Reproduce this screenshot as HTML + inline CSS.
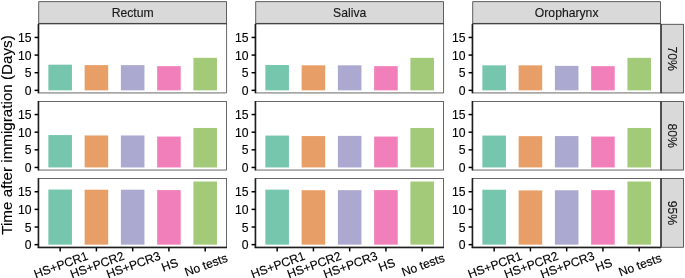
<!DOCTYPE html>
<html lang="en"><head><meta charset="utf-8"><title>Time after immigration (Days)</title>
<style>html,body{margin:0;padding:0;background:#fff}svg{display:block}text{font-family:"Liberation Sans",Arial,Helvetica,sans-serif;stroke:#000;stroke-width:0.12px}</style></head><body>
<svg width="685" height="278" viewBox="0 0 685 278">
<rect width="685" height="278" fill="#fff"/>
<rect x="38.4" y="1.35" width="188.55" height="22.55" fill="#D9D9D9"/><rect x="38.77" y="1.72" width="187.81" height="21.81" fill="none" stroke="#333333" stroke-width="0.74"/>
<text x="132.68" y="17.19" font-size="12.2" fill="#1A1A1A" text-anchor="middle">Rectum</text>
<rect x="48.37" y="64.67" width="23.57" height="25.68" fill="#76C5AD"/>
<rect x="84.63" y="65.13" width="23.57" height="25.22" fill="#E89F67"/>
<rect x="120.89" y="65.13" width="23.57" height="25.22" fill="#ACA9D1"/>
<rect x="157.15" y="66.15" width="23.57" height="24.2" fill="#F17FB9"/>
<rect x="193.41" y="57.83" width="23.57" height="32.52" fill="#A3CA78"/>
<line x1="38.4" y1="23.9" x2="38.4" y2="93.3" stroke="#000" stroke-width="1.48"/>
<path d="M38.77 23.9V92.93H226.58V23.9" fill="none" stroke="#333333" stroke-width="0.74"/>
<rect x="38.4" y="22.95" width="188.55" height="1.05" fill="#444"/>
<rect x="38.4" y="24" width="188.55" height="1" fill="#333" fill-opacity="0.3"/>
<line x1="34.58" y1="90.35" x2="38.4" y2="90.35" stroke="#000" stroke-width="1.48"/>
<text x="31.52" y="94.97" font-size="12.2" fill="#000" text-anchor="end">0</text>
<line x1="34.58" y1="72.72" x2="38.4" y2="72.72" stroke="#000" stroke-width="1.48"/>
<text x="31.52" y="77.33" font-size="12.2" fill="#000" text-anchor="end">5</text>
<line x1="34.58" y1="55.08" x2="38.4" y2="55.08" stroke="#000" stroke-width="1.48"/>
<text x="31.52" y="59.7" font-size="12.2" fill="#000" text-anchor="end">10</text>
<line x1="34.58" y1="37.45" x2="38.4" y2="37.45" stroke="#000" stroke-width="1.48"/>
<text x="31.52" y="42.06" font-size="12.2" fill="#000" text-anchor="end">15</text>
<rect x="48.37" y="135.07" width="23.57" height="32.38" fill="#76C5AD"/>
<rect x="84.63" y="135.46" width="23.57" height="31.99" fill="#E89F67"/>
<rect x="120.89" y="135.46" width="23.57" height="31.99" fill="#ACA9D1"/>
<rect x="157.15" y="136.55" width="23.57" height="30.9" fill="#F17FB9"/>
<rect x="193.41" y="127.98" width="23.57" height="39.47" fill="#A3CA78"/>
<line x1="38.4" y1="101" x2="38.4" y2="170.4" stroke="#000" stroke-width="1.48"/>
<rect x="38.77" y="101.37" width="187.81" height="68.66" fill="none" stroke="#333333" stroke-width="0.74"/>
<line x1="34.58" y1="167.45" x2="38.4" y2="167.45" stroke="#000" stroke-width="1.48"/>
<text x="31.52" y="172.07" font-size="12.2" fill="#000" text-anchor="end">0</text>
<line x1="34.58" y1="149.82" x2="38.4" y2="149.82" stroke="#000" stroke-width="1.48"/>
<text x="31.52" y="154.43" font-size="12.2" fill="#000" text-anchor="end">5</text>
<line x1="34.58" y1="132.18" x2="38.4" y2="132.18" stroke="#000" stroke-width="1.48"/>
<text x="31.52" y="136.8" font-size="12.2" fill="#000" text-anchor="end">10</text>
<line x1="34.58" y1="114.55" x2="38.4" y2="114.55" stroke="#000" stroke-width="1.48"/>
<text x="31.52" y="119.16" font-size="12.2" fill="#000" text-anchor="end">15</text>
<rect x="48.37" y="189.56" width="23.57" height="55.09" fill="#76C5AD"/>
<rect x="84.63" y="189.7" width="23.57" height="54.95" fill="#E89F67"/>
<rect x="120.89" y="189.7" width="23.57" height="54.95" fill="#ACA9D1"/>
<rect x="157.15" y="190.09" width="23.57" height="54.56" fill="#F17FB9"/>
<rect x="193.41" y="181.52" width="23.57" height="63.13" fill="#A3CA78"/>
<line x1="38.4" y1="178.2" x2="38.4" y2="247.6" stroke="#000" stroke-width="1.48"/>
<line x1="37.66" y1="247.6" x2="226.95" y2="247.6" stroke="#000" stroke-width="1.48"/>
<rect x="38.77" y="178.57" width="187.81" height="68.66" fill="none" stroke="#333333" stroke-width="0.74"/>
<line x1="60.16" y1="247.6" x2="60.16" y2="251.42" stroke="#000" stroke-width="1.48"/>
<text transform="translate(60.86,264.7) rotate(-20)" x="0" y="4.37" font-size="12.2" fill="#000" text-anchor="middle">HS+PCR1</text>
<line x1="96.42" y1="247.6" x2="96.42" y2="251.42" stroke="#000" stroke-width="1.48"/>
<text transform="translate(97.12,264.7) rotate(-20)" x="0" y="4.37" font-size="12.2" fill="#000" text-anchor="middle">HS+PCR2</text>
<line x1="132.68" y1="247.6" x2="132.68" y2="251.42" stroke="#000" stroke-width="1.48"/>
<text transform="translate(133.38,264.7) rotate(-20)" x="0" y="4.37" font-size="12.2" fill="#000" text-anchor="middle">HS+PCR3</text>
<line x1="168.93" y1="247.6" x2="168.93" y2="251.42" stroke="#000" stroke-width="1.48"/>
<text transform="translate(169.63,264.7) rotate(-20)" x="0" y="4.37" font-size="12.2" fill="#000" text-anchor="middle">HS</text>
<line x1="205.19" y1="247.6" x2="205.19" y2="251.42" stroke="#000" stroke-width="1.48"/>
<text transform="translate(205.89,264.7) rotate(-20)" x="0" y="4.37" font-size="12.2" fill="#000" text-anchor="middle">No tests</text>
<line x1="34.58" y1="244.65" x2="38.4" y2="244.65" stroke="#000" stroke-width="1.48"/>
<text x="31.52" y="249.27" font-size="12.2" fill="#000" text-anchor="end">0</text>
<line x1="34.58" y1="227.02" x2="38.4" y2="227.02" stroke="#000" stroke-width="1.48"/>
<text x="31.52" y="231.63" font-size="12.2" fill="#000" text-anchor="end">5</text>
<line x1="34.58" y1="209.38" x2="38.4" y2="209.38" stroke="#000" stroke-width="1.48"/>
<text x="31.52" y="214" font-size="12.2" fill="#000" text-anchor="end">10</text>
<line x1="34.58" y1="191.75" x2="38.4" y2="191.75" stroke="#000" stroke-width="1.48"/>
<text x="31.52" y="196.36" font-size="12.2" fill="#000" text-anchor="end">15</text>
<rect x="255.4" y="1.35" width="188.55" height="22.55" fill="#D9D9D9"/><rect x="255.77" y="1.72" width="187.81" height="21.81" fill="none" stroke="#333333" stroke-width="0.74"/>
<text x="349.68" y="17.19" font-size="12.2" fill="#1A1A1A" text-anchor="middle">Saliva</text>
<rect x="265.37" y="65.03" width="23.57" height="25.32" fill="#76C5AD"/>
<rect x="301.63" y="65.31" width="23.57" height="25.04" fill="#E89F67"/>
<rect x="337.89" y="65.31" width="23.57" height="25.04" fill="#ACA9D1"/>
<rect x="374.15" y="66.15" width="23.57" height="24.2" fill="#F17FB9"/>
<rect x="410.41" y="57.83" width="23.57" height="32.52" fill="#A3CA78"/>
<line x1="255.4" y1="23.9" x2="255.4" y2="93.3" stroke="#000" stroke-width="1.48"/>
<path d="M255.77 23.9V92.93H443.58V23.9" fill="none" stroke="#333333" stroke-width="0.74"/>
<rect x="255.4" y="22.95" width="188.55" height="1.05" fill="#444"/>
<rect x="255.4" y="24" width="188.55" height="1" fill="#333" fill-opacity="0.3"/>
<line x1="251.58" y1="90.35" x2="255.4" y2="90.35" stroke="#000" stroke-width="1.48"/>
<text x="248.52" y="94.97" font-size="12.2" fill="#000" text-anchor="end">0</text>
<line x1="251.58" y1="72.72" x2="255.4" y2="72.72" stroke="#000" stroke-width="1.48"/>
<text x="248.52" y="77.33" font-size="12.2" fill="#000" text-anchor="end">5</text>
<line x1="251.58" y1="55.08" x2="255.4" y2="55.08" stroke="#000" stroke-width="1.48"/>
<text x="248.52" y="59.7" font-size="12.2" fill="#000" text-anchor="end">10</text>
<line x1="251.58" y1="37.45" x2="255.4" y2="37.45" stroke="#000" stroke-width="1.48"/>
<text x="248.52" y="42.06" font-size="12.2" fill="#000" text-anchor="end">15</text>
<rect x="265.37" y="135.57" width="23.57" height="31.88" fill="#76C5AD"/>
<rect x="301.63" y="136.06" width="23.57" height="31.39" fill="#E89F67"/>
<rect x="337.89" y="135.88" width="23.57" height="31.57" fill="#ACA9D1"/>
<rect x="374.15" y="136.55" width="23.57" height="30.9" fill="#F17FB9"/>
<rect x="410.41" y="127.98" width="23.57" height="39.47" fill="#A3CA78"/>
<line x1="255.4" y1="101" x2="255.4" y2="170.4" stroke="#000" stroke-width="1.48"/>
<rect x="255.77" y="101.37" width="187.81" height="68.66" fill="none" stroke="#333333" stroke-width="0.74"/>
<line x1="251.58" y1="167.45" x2="255.4" y2="167.45" stroke="#000" stroke-width="1.48"/>
<text x="248.52" y="172.07" font-size="12.2" fill="#000" text-anchor="end">0</text>
<line x1="251.58" y1="149.82" x2="255.4" y2="149.82" stroke="#000" stroke-width="1.48"/>
<text x="248.52" y="154.43" font-size="12.2" fill="#000" text-anchor="end">5</text>
<line x1="251.58" y1="132.18" x2="255.4" y2="132.18" stroke="#000" stroke-width="1.48"/>
<text x="248.52" y="136.8" font-size="12.2" fill="#000" text-anchor="end">10</text>
<line x1="251.58" y1="114.55" x2="255.4" y2="114.55" stroke="#000" stroke-width="1.48"/>
<text x="248.52" y="119.16" font-size="12.2" fill="#000" text-anchor="end">15</text>
<rect x="265.37" y="189.66" width="23.57" height="54.99" fill="#76C5AD"/>
<rect x="301.63" y="190.23" width="23.57" height="54.42" fill="#E89F67"/>
<rect x="337.89" y="190.16" width="23.57" height="54.49" fill="#ACA9D1"/>
<rect x="374.15" y="190.09" width="23.57" height="54.56" fill="#F17FB9"/>
<rect x="410.41" y="181.52" width="23.57" height="63.13" fill="#A3CA78"/>
<line x1="255.4" y1="178.2" x2="255.4" y2="247.6" stroke="#000" stroke-width="1.48"/>
<line x1="254.66" y1="247.6" x2="443.95" y2="247.6" stroke="#000" stroke-width="1.48"/>
<rect x="255.77" y="178.57" width="187.81" height="68.66" fill="none" stroke="#333333" stroke-width="0.74"/>
<line x1="277.16" y1="247.6" x2="277.16" y2="251.42" stroke="#000" stroke-width="1.48"/>
<text transform="translate(277.86,264.7) rotate(-20)" x="0" y="4.37" font-size="12.2" fill="#000" text-anchor="middle">HS+PCR1</text>
<line x1="313.42" y1="247.6" x2="313.42" y2="251.42" stroke="#000" stroke-width="1.48"/>
<text transform="translate(314.12,264.7) rotate(-20)" x="0" y="4.37" font-size="12.2" fill="#000" text-anchor="middle">HS+PCR2</text>
<line x1="349.68" y1="247.6" x2="349.68" y2="251.42" stroke="#000" stroke-width="1.48"/>
<text transform="translate(350.38,264.7) rotate(-20)" x="0" y="4.37" font-size="12.2" fill="#000" text-anchor="middle">HS+PCR3</text>
<line x1="385.93" y1="247.6" x2="385.93" y2="251.42" stroke="#000" stroke-width="1.48"/>
<text transform="translate(386.63,264.7) rotate(-20)" x="0" y="4.37" font-size="12.2" fill="#000" text-anchor="middle">HS</text>
<line x1="422.19" y1="247.6" x2="422.19" y2="251.42" stroke="#000" stroke-width="1.48"/>
<text transform="translate(422.89,264.7) rotate(-20)" x="0" y="4.37" font-size="12.2" fill="#000" text-anchor="middle">No tests</text>
<line x1="251.58" y1="244.65" x2="255.4" y2="244.65" stroke="#000" stroke-width="1.48"/>
<text x="248.52" y="249.27" font-size="12.2" fill="#000" text-anchor="end">0</text>
<line x1="251.58" y1="227.02" x2="255.4" y2="227.02" stroke="#000" stroke-width="1.48"/>
<text x="248.52" y="231.63" font-size="12.2" fill="#000" text-anchor="end">5</text>
<line x1="251.58" y1="209.38" x2="255.4" y2="209.38" stroke="#000" stroke-width="1.48"/>
<text x="248.52" y="214" font-size="12.2" fill="#000" text-anchor="end">10</text>
<line x1="251.58" y1="191.75" x2="255.4" y2="191.75" stroke="#000" stroke-width="1.48"/>
<text x="248.52" y="196.36" font-size="12.2" fill="#000" text-anchor="end">15</text>
<rect x="472.4" y="1.35" width="188.55" height="22.55" fill="#D9D9D9"/><rect x="472.77" y="1.72" width="187.81" height="21.81" fill="none" stroke="#333333" stroke-width="0.74"/>
<text x="566.67" y="17.19" font-size="12.2" fill="#1A1A1A" text-anchor="middle">Oropharynx</text>
<rect x="482.37" y="65.34" width="23.57" height="25.01" fill="#76C5AD"/>
<rect x="518.63" y="65.34" width="23.57" height="25.01" fill="#E89F67"/>
<rect x="554.89" y="65.87" width="23.57" height="24.48" fill="#ACA9D1"/>
<rect x="591.15" y="66.15" width="23.57" height="24.2" fill="#F17FB9"/>
<rect x="627.41" y="57.83" width="23.57" height="32.52" fill="#A3CA78"/>
<line x1="472.4" y1="23.9" x2="472.4" y2="93.3" stroke="#000" stroke-width="1.48"/>
<path d="M472.77 23.9V92.93H660.58V23.9" fill="none" stroke="#333333" stroke-width="0.74"/>
<rect x="472.4" y="22.95" width="188.55" height="1.05" fill="#444"/>
<rect x="472.4" y="24" width="188.55" height="1" fill="#333" fill-opacity="0.3"/>
<line x1="468.58" y1="90.35" x2="472.4" y2="90.35" stroke="#000" stroke-width="1.48"/>
<text x="465.52" y="94.97" font-size="12.2" fill="#000" text-anchor="end">0</text>
<line x1="468.58" y1="72.72" x2="472.4" y2="72.72" stroke="#000" stroke-width="1.48"/>
<text x="465.52" y="77.33" font-size="12.2" fill="#000" text-anchor="end">5</text>
<line x1="468.58" y1="55.08" x2="472.4" y2="55.08" stroke="#000" stroke-width="1.48"/>
<text x="465.52" y="59.7" font-size="12.2" fill="#000" text-anchor="end">10</text>
<line x1="468.58" y1="37.45" x2="472.4" y2="37.45" stroke="#000" stroke-width="1.48"/>
<text x="465.52" y="42.06" font-size="12.2" fill="#000" text-anchor="end">15</text>
<rect x="482.37" y="135.57" width="23.57" height="31.88" fill="#76C5AD"/>
<rect x="518.63" y="136.13" width="23.57" height="31.32" fill="#E89F67"/>
<rect x="554.89" y="136.06" width="23.57" height="31.39" fill="#ACA9D1"/>
<rect x="591.15" y="136.55" width="23.57" height="30.9" fill="#F17FB9"/>
<rect x="627.41" y="127.98" width="23.57" height="39.47" fill="#A3CA78"/>
<line x1="472.4" y1="101" x2="472.4" y2="170.4" stroke="#000" stroke-width="1.48"/>
<rect x="472.77" y="101.37" width="187.81" height="68.66" fill="none" stroke="#333333" stroke-width="0.74"/>
<line x1="468.58" y1="167.45" x2="472.4" y2="167.45" stroke="#000" stroke-width="1.48"/>
<text x="465.52" y="172.07" font-size="12.2" fill="#000" text-anchor="end">0</text>
<line x1="468.58" y1="149.82" x2="472.4" y2="149.82" stroke="#000" stroke-width="1.48"/>
<text x="465.52" y="154.43" font-size="12.2" fill="#000" text-anchor="end">5</text>
<line x1="468.58" y1="132.18" x2="472.4" y2="132.18" stroke="#000" stroke-width="1.48"/>
<text x="465.52" y="136.8" font-size="12.2" fill="#000" text-anchor="end">10</text>
<line x1="468.58" y1="114.55" x2="472.4" y2="114.55" stroke="#000" stroke-width="1.48"/>
<text x="465.52" y="119.16" font-size="12.2" fill="#000" text-anchor="end">15</text>
<rect x="482.37" y="189.73" width="23.57" height="54.92" fill="#76C5AD"/>
<rect x="518.63" y="190.4" width="23.57" height="54.25" fill="#E89F67"/>
<rect x="554.89" y="190.26" width="23.57" height="54.39" fill="#ACA9D1"/>
<rect x="591.15" y="190.16" width="23.57" height="54.49" fill="#F17FB9"/>
<rect x="627.41" y="181.52" width="23.57" height="63.13" fill="#A3CA78"/>
<line x1="472.4" y1="178.2" x2="472.4" y2="247.6" stroke="#000" stroke-width="1.48"/>
<line x1="471.66" y1="247.6" x2="660.95" y2="247.6" stroke="#000" stroke-width="1.48"/>
<rect x="472.77" y="178.57" width="187.81" height="68.66" fill="none" stroke="#333333" stroke-width="0.74"/>
<line x1="494.16" y1="247.6" x2="494.16" y2="251.42" stroke="#000" stroke-width="1.48"/>
<text transform="translate(494.86,264.7) rotate(-20)" x="0" y="4.37" font-size="12.2" fill="#000" text-anchor="middle">HS+PCR1</text>
<line x1="530.42" y1="247.6" x2="530.42" y2="251.42" stroke="#000" stroke-width="1.48"/>
<text transform="translate(531.12,264.7) rotate(-20)" x="0" y="4.37" font-size="12.2" fill="#000" text-anchor="middle">HS+PCR2</text>
<line x1="566.67" y1="247.6" x2="566.67" y2="251.42" stroke="#000" stroke-width="1.48"/>
<text transform="translate(567.38,264.7) rotate(-20)" x="0" y="4.37" font-size="12.2" fill="#000" text-anchor="middle">HS+PCR3</text>
<line x1="602.93" y1="247.6" x2="602.93" y2="251.42" stroke="#000" stroke-width="1.48"/>
<text transform="translate(603.63,264.7) rotate(-20)" x="0" y="4.37" font-size="12.2" fill="#000" text-anchor="middle">HS</text>
<line x1="639.19" y1="247.6" x2="639.19" y2="251.42" stroke="#000" stroke-width="1.48"/>
<text transform="translate(639.89,264.7) rotate(-20)" x="0" y="4.37" font-size="12.2" fill="#000" text-anchor="middle">No tests</text>
<line x1="468.58" y1="244.65" x2="472.4" y2="244.65" stroke="#000" stroke-width="1.48"/>
<text x="465.52" y="249.27" font-size="12.2" fill="#000" text-anchor="end">0</text>
<line x1="468.58" y1="227.02" x2="472.4" y2="227.02" stroke="#000" stroke-width="1.48"/>
<text x="465.52" y="231.63" font-size="12.2" fill="#000" text-anchor="end">5</text>
<line x1="468.58" y1="209.38" x2="472.4" y2="209.38" stroke="#000" stroke-width="1.48"/>
<text x="465.52" y="214" font-size="12.2" fill="#000" text-anchor="end">10</text>
<line x1="468.58" y1="191.75" x2="472.4" y2="191.75" stroke="#000" stroke-width="1.48"/>
<text x="465.52" y="196.36" font-size="12.2" fill="#000" text-anchor="end">15</text>
<rect x="660.95" y="23.9" width="22.85" height="69.4" fill="#D9D9D9"/><rect x="661.32" y="24.27" width="22.11" height="68.66" fill="none" stroke="#333333" stroke-width="0.74"/>
<line x1="661.05" y1="23.9" x2="661.05" y2="93.3" stroke="#484848" stroke-width="1.5"/>
<text transform="translate(672.38,58.6) rotate(90)" x="0" y="4.37" font-size="12.2" fill="#1A1A1A" text-anchor="middle">70%</text>
<rect x="660.95" y="101" width="22.85" height="69.4" fill="#D9D9D9"/><rect x="661.32" y="101.37" width="22.11" height="68.66" fill="none" stroke="#333333" stroke-width="0.74"/>
<line x1="661.05" y1="101" x2="661.05" y2="170.4" stroke="#484848" stroke-width="1.5"/>
<text transform="translate(672.38,135.7) rotate(90)" x="0" y="4.37" font-size="12.2" fill="#1A1A1A" text-anchor="middle">80%</text>
<rect x="660.95" y="178.2" width="22.85" height="69.4" fill="#D9D9D9"/><rect x="661.32" y="178.57" width="22.11" height="68.66" fill="none" stroke="#333333" stroke-width="0.74"/>
<line x1="661.05" y1="178.2" x2="661.05" y2="247.6" stroke="#484848" stroke-width="1.5"/>
<text transform="translate(672.38,212.9) rotate(90)" x="0" y="4.37" font-size="12.2" fill="#1A1A1A" text-anchor="middle">95%</text>
<text transform="translate(12.2,135.0) rotate(-90)" x="0" y="0" font-size="15.2" fill="#000" text-anchor="middle">Time after immigration (Days)</text>
</svg></body></html>
